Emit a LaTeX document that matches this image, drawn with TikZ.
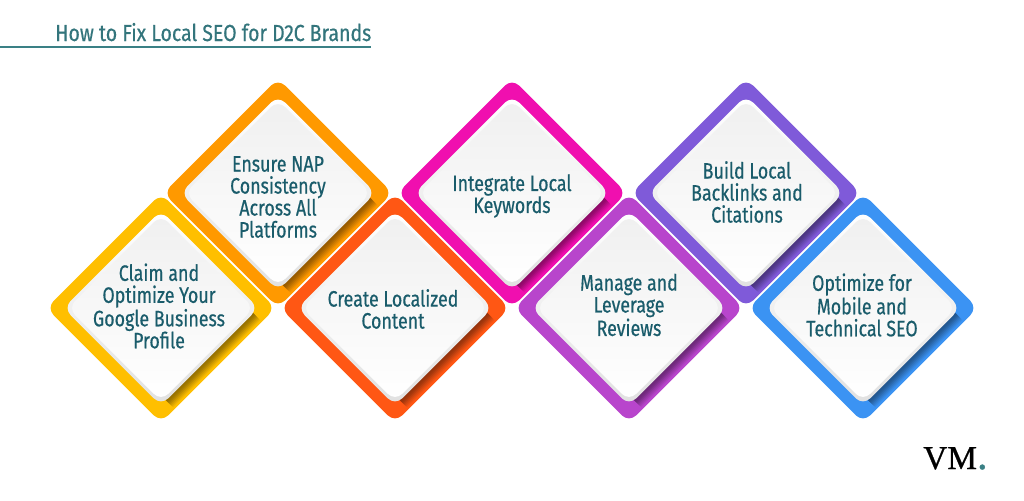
\documentclass[tikz,border=0pt]{standalone}
\usepackage{fontspec}
\setmainfont{Fira Sans}[FakeStretch=0.8,FakeBold=0.5]
\newfontfamily\logofont{Liberation Serif}[FakeBold=0.8]
\newfontfamily\headfont{Fira Sans}[FakeStretch=0.84,FakeBold=0.35]
\definecolor{tealtext}{HTML}{1A5C6B}
\definecolor{tealhead}{HTML}{33757C}
\definecolor{tealrule}{HTML}{3A8085}
\definecolor{tileyellow}{HTML}{FFBF00}
\definecolor{tileorange}{HTML}{FF9900}
\definecolor{tilered}{HTML}{FF5714}
\definecolor{tilepink}{HTML}{F00FAF}
\definecolor{tileorchid}{HTML}{B845CC}
\definecolor{tilepurple}{HTML}{7F5AD9}
\definecolor{tileblue}{HTML}{3B93F3}
\tikzset{
	tilelabel/.style={text=tealtext, font=\fontsize{16.7}{16.5}\selectfont, align=center, inner sep=0pt},
	tilepath/.style={rounded corners=7.5pt}
}
\def\tile(#1,#2)#3{
	\begin{scope}[shift={(#1,#2)}]
		\fill[#3, tilepath] (-114.5,0) -- (0,-114.5) -- (114.5,0) -- (0,114.5) -- cycle;
		\foreach \d/\m in {8/0,7/12,6/25,5/37,4/50,3/62,2/70,1/75}{
			\pgfmathsetmacro{\k}{100-\m*0.55}
			\fill[#3!\k!black] (92,5) -- (92+\d,5+\d) -- (5+\d,92+\d) -- (5,92) -- cycle;
		}
		\shade[tilepath, top color=white, bottom color=black!12] (-97.5,0) -- (0,-97.5) -- (97.5,0) -- (0,97.5) -- cycle;
		\shade[tilepath, top color=black!6, bottom color=white] (-93,0) -- (0,-93) -- (93,0) -- (0,93) -- cycle;
	\end{scope}
}

\begin{document}
\begin{tikzpicture}[x=0.75pt,y=-0.75pt]
	\useasboundingbox (0,0) rectangle (1024,500);
	\fill[white] (0,0) rectangle (1024,500);
	
	%%%%% title %%%%%
	\coordinate (ruleleft) at (0,47);
	\coordinate (ruleright) at (371,47);
	\draw[tealrule, line width=1.5pt] (ruleleft) -- (ruleright);
	\node[anchor=base west, text=tealhead, font=\headfont\fontsize{17.4}{18}\selectfont, inner sep=0pt] (heading) at (55,41) {How to Fix Local SEO for D2C Brands};
	
	%%%%% tiles %%%%%
	\tile(161,308){tileyellow}
	\tile(278,193){tileorange}
	\tile(395,308){tilered}
	\tile(512,193){tilepink}
	\tile(629,308){tileorchid}
	\tile(746,193){tilepurple}
	\tile(863,308){tileblue}
	
	\node[tilelabel] (claim) at (159,306) {Claim and\\Optimize Your\\Google Business\\Profile};
	\node[tilelabel] (nap) at (278,197) {Ensure NAP\\Consistency\\Across All\\Platforms};
	\node[tilelabel] (content) at (393,309) {Create Localized\\Content};
	\node[tilelabel] (keywords) at (512,196) {Integrate Local\\Keywords};
	\node[tilelabel] (reviews) at (629,305) {Manage and\\Leverage\\Reviews};
	\node[tilelabel] (backlinks) at (747,192) {Build Local\\Backlinks and\\Citations};
	\node[tilelabel] (technical) at (862,305) {Optimize for\\Mobile and\\Technical SEO};
	
	%%%%% logo %%%%%
	\node[anchor=base west, inner sep=0pt, font=\logofont\fontsize{25}{25}\selectfont] (logo) at (923,469) {VM\textcolor{tealrule}{\fontsize{32}{32}\selectfont.}};
\end{tikzpicture}
\end{document}
